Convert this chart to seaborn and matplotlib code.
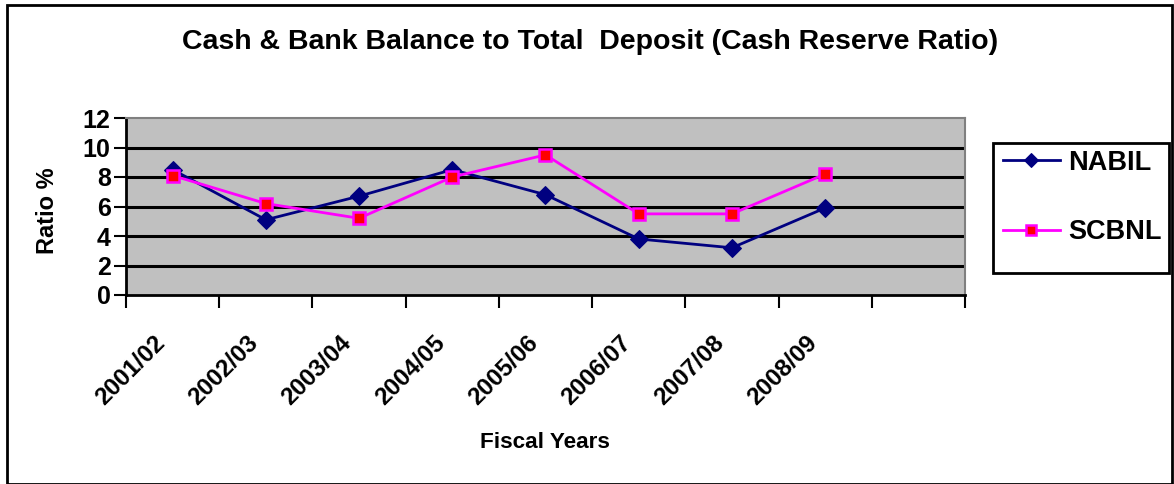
import numpy as np
import pandas as pd
import seaborn as sns
import matplotlib.pyplot as plt
from matplotlib.patches import Rectangle
from matplotlib.transforms import ScaledTranslation

years = ["2001/02", "2002/03", "2003/04", "2004/05", "2005/06", "2006/07", "2007/08", "2008/09"]
nabil = [8.5, 5.1, 6.7, 8.5, 6.8, 3.8, 3.2, 5.9]
scbnl = [8.1, 6.2, 5.2, 8.0, 9.5, 5.5, 5.5, 8.2]
y_ticks = [0, 2, 4, 6, 8, 10, 12]

plt.rcParams['font.family'] = ['Liberation Sans', 'DejaVu Sans']
plt.rcParams['font.weight'] = 'bold'

fig = plt.figure(figsize=(11.74, 4.84), dpi=100)
ax = fig.add_axes([126 / 1174, 1 - 295 / 484, 839 / 1174, 177 / 484])
ax.set_facecolor("#C0C0C0")

sns.lineplot(x=years, y=nabil, ax=ax, color="#000080", linewidth=2,
             marker="D", markersize=9, markeredgecolor="#000080", label="NABIL")
sns.lineplot(x=years, y=scbnl, ax=ax, color="#FF00FF", linewidth=2,
             marker="s", markersize=9, markerfacecolor="#FF0000",
             markeredgecolor="#FF00FF", markeredgewidth=1.8, label="SCBNL")

# horizontal gridlines
for v in y_ticks[1:-1]:
    ax.axhline(v, color="black", linewidth=2.2, zorder=1)

ax.set_ylim(0, 12)
ax.set_xlim(-0.5, 8.5)
ax.set_yticks(y_ticks)
ax.set_yticklabels([str(v) for v in y_ticks], fontsize=18, fontweight="bold")
ax.tick_params(axis="y", direction="out", length=9, width=1.5, pad=2)

ax.set_xticks(range(len(years)))
ax.set_xticklabels(years, rotation=45, ha="right", fontsize=17.5, fontweight="bold")
ax.set_xticks(np.arange(-0.5, 9.0, 1.0), minor=True)
ax.tick_params(axis="x", which="major", length=0, pad=26)
ax.tick_params(axis="x", which="minor", direction="out", length=9, width=1.5)
offset = ScaledTranslation(-3 / 100, 0, fig.dpi_scale_trans)
for lab in ax.get_xticklabels():
    lab.set_transform(lab.get_transform() + offset)

for side in ["top", "right"]:
    ax.spines[side].set_color("#808080")
    ax.spines[side].set_linewidth(1.5)
for side in ["left", "bottom"]:
    ax.spines[side].set_color("black")
    ax.spines[side].set_linewidth(2)

ax.set_xlabel("")
ax.set_ylabel("")
ax.get_legend().remove()

fig.text(0.503, 1 - 42 / 484, "Cash & Bank Balance to Total  Deposit (Cash Reserve Ratio)",
         ha="center", va="center", fontsize=20.5, fontweight="bold")
fig.text(545 / 1174, 1 - 443 / 484, "Fiscal Years", ha="center", va="center",
         fontsize=16.2, fontweight="bold")
fig.text(48 / 1174, 1 - 211 / 484, "Ratio %", ha="center", va="center",
         rotation=90, fontsize=17, fontweight="bold")

# legend: entries placed without frame, frame drawn as its own box
handles, labels = ax.get_legend_handles_labels()
leg = fig.legend(handles, labels, loc="center left",
                 bbox_to_anchor=(1003 / 1174, 1 - 197.5 / 484),
                 prop={"size": 19.5, "weight": "bold"}, frameon=False,
                 handlelength=2.1, labelspacing=1.6,
                 borderpad=0, handletextpad=0.3, borderaxespad=0)
for h in leg.legend_handles:
    h.set_markersize(7.5)
fig.add_artist(Rectangle((993 / 1174, 1 - 273 / 484), 176 / 1174, 130 / 484,
                         transform=fig.transFigure, fill=False,
                         edgecolor="black", linewidth=2))

fig.add_artist(Rectangle((7 / 1174, 0), 1165 / 1174, 1 - 5 / 484, transform=fig.transFigure,
                         fill=False, edgecolor="black", linewidth=2))

fig.savefig("out.png", dpi=100)
